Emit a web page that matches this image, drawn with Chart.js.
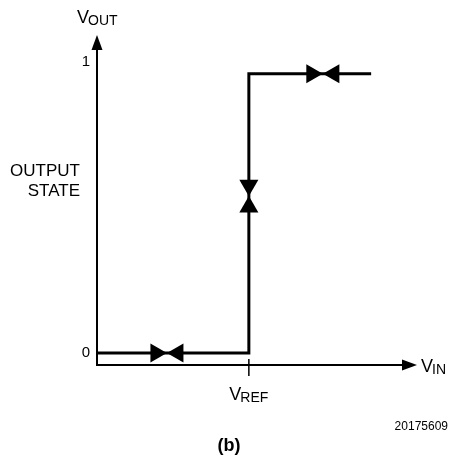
<!DOCTYPE html>
<html>
<head>
<meta charset="utf-8">
<script src="https://cdn.jsdelivr.net/npm/chart.js@4/dist/chart.umd.min.js"></script>
<style>
  html, body { margin: 0; padding: 0; background: #fff; }
  canvas { display: block; }
</style>
</head>
<body>
<canvas id="comparator-chart" width="451" height="458"></canvas>
<script>
// transfer curve of the comparator (V_IN on x, output state on y)
const vinValues  = [0, 50, 50, 90];
const voutValues = [0, 0, 0.96, 0.96];

// direction arrows sitting on the curve
const markerVin      = [19.6, 26.8, 50, 50, 70.6, 77.8];
const markerVout     = [0, 0, 0.577, 0.502, 0.96, 0.96];
const markerRotation = [90, 270, 180, 0, 90, 270];

const VREF = 50;
const yTickValues = [0, 1];
const yTickLabels = ['0', '1'];

const FONT = '"Liberation Sans", Arial, Helvetica, sans-serif';

function drawSub(ctx, main, sub, x, y, mainSize, subSize, drop) {
  ctx.font = mainSize + 'px ' + FONT;
  const w = ctx.measureText(main).width;
  ctx.fillText(main, x, y);
  ctx.font = subSize + 'px ' + FONT;
  ctx.fillText(sub, x + w - 1, y + drop);
}

function subWidth(ctx, main, sub, mainSize, subSize) {
  ctx.font = mainSize + 'px ' + FONT;
  const a = ctx.measureText(main).width;
  ctx.font = subSize + 'px ' + FONT;
  return a - 1 + ctx.measureText(sub).width;
}

const axesPlugin = {
  id: 'arrowAxes',
  beforeDatasetsDraw(chart) {
    const ctx = chart.ctx;
    const xs = chart.scales.x, ys = chart.scales.y;
    const x0 = xs.getPixelForValue(0) + 1;
    const axisY = ys.bottom;
    ctx.save();
    ctx.strokeStyle = '#000';
    ctx.fillStyle = '#000';
    ctx.lineWidth = 2;
    // y axis
    ctx.beginPath();
    ctx.moveTo(x0, axisY + 1);
    ctx.lineTo(x0, ys.top + 14);
    ctx.stroke();
    ctx.beginPath();
    ctx.moveTo(x0, ys.top);
    ctx.lineTo(x0 - 5.5, ys.top + 15);
    ctx.lineTo(x0 + 5.5, ys.top + 15);
    ctx.closePath();
    ctx.fill();
    // x axis
    ctx.beginPath();
    ctx.moveTo(x0 - 1, axisY);
    ctx.lineTo(xs.right - 14, axisY);
    ctx.stroke();
    ctx.beginPath();
    ctx.moveTo(xs.right, axisY);
    ctx.lineTo(xs.right - 15, axisY - 5.5);
    ctx.lineTo(xs.right - 15, axisY + 5.5);
    ctx.closePath();
    ctx.fill();
    // VREF tick
    const xr = xs.getPixelForValue(VREF);
    ctx.lineWidth = 1.5;
    ctx.beginPath();
    ctx.moveTo(xr, axisY - 6);
    ctx.lineTo(xr, axisY + 11);
    ctx.stroke();
    ctx.restore();
  },
  afterDraw(chart) {
    const ctx = chart.ctx;
    const xs = chart.scales.x, ys = chart.scales.y;
    ctx.save();
    ctx.fillStyle = '#000';

    // y tick labels
    ctx.font = '15px ' + FONT;
    ctx.textAlign = 'right';
    ctx.textBaseline = 'middle';
    yTickValues.forEach((v, i) => {
      ctx.fillText(yTickLabels[i], 90, ys.getPixelForValue(v));
    });

    // axis title on the left
    ctx.font = '17px ' + FONT;
    ctx.fillText('OUTPUT', 80, 171);
    ctx.fillText('STATE', 80, 191);

    // V_OUT / V_IN / V_REF
    ctx.textAlign = 'left';
    ctx.textBaseline = 'alphabetic';
    drawSub(ctx, 'V', 'OUT', 77, 23, 18, 14, 2);
    drawSub(ctx, 'V', 'IN', 421, 372, 18, 14, 2);
    const xr = xs.getPixelForValue(VREF);
    const w = subWidth(ctx, 'V', 'REF', 18, 14);
    drawSub(ctx, 'V', 'REF', xr - w / 2, 400, 18, 14, 2);

    // figure id and caption
    ctx.font = '12px ' + FONT;
    ctx.textAlign = 'right';
    ctx.textBaseline = 'middle';
    ctx.fillText('20175609', 448, 427);
    ctx.font = 'bold 18px ' + FONT;
    ctx.textAlign = 'center';
    ctx.fillText('(b)', 229, 446);
    ctx.restore();
  }
};

new Chart(document.getElementById('comparator-chart'), {
  type: 'line',
  data: {
    datasets: [
      {
        data: vinValues.map((x, i) => ({ x, y: voutValues[i] })),
        borderColor: '#000',
        borderWidth: 3,
        pointRadius: 0,
        tension: 0,
        borderJoinStyle: 'miter',
        borderCapStyle: 'butt',
        fill: false
      },
      {
        data: markerVin.map((x, i) => ({ x, y: markerVout[i] })),
        showLine: false,
        pointStyle: 'triangle',
        pointRadius: 11,
        pointRotation: markerRotation,
        pointBackgroundColor: '#000',
        pointBorderColor: '#000',
        pointBorderWidth: 0
      }
    ]
  },
  options: {
    responsive: false,
    animation: false,
    events: [],
    layout: { padding: { left: 96, right: 34, top: 35, bottom: 93 } },
    scales: {
      x: { type: 'linear', display: false, min: 0, max: 105 },
      y: { type: 'linear', display: false, min: -0.041, max: 1.093 }
    },
    plugins: {
      legend: { display: false },
      tooltip: { enabled: false }
    }
  },
  plugins: [axesPlugin]
});
</script>
</body>
</html>
